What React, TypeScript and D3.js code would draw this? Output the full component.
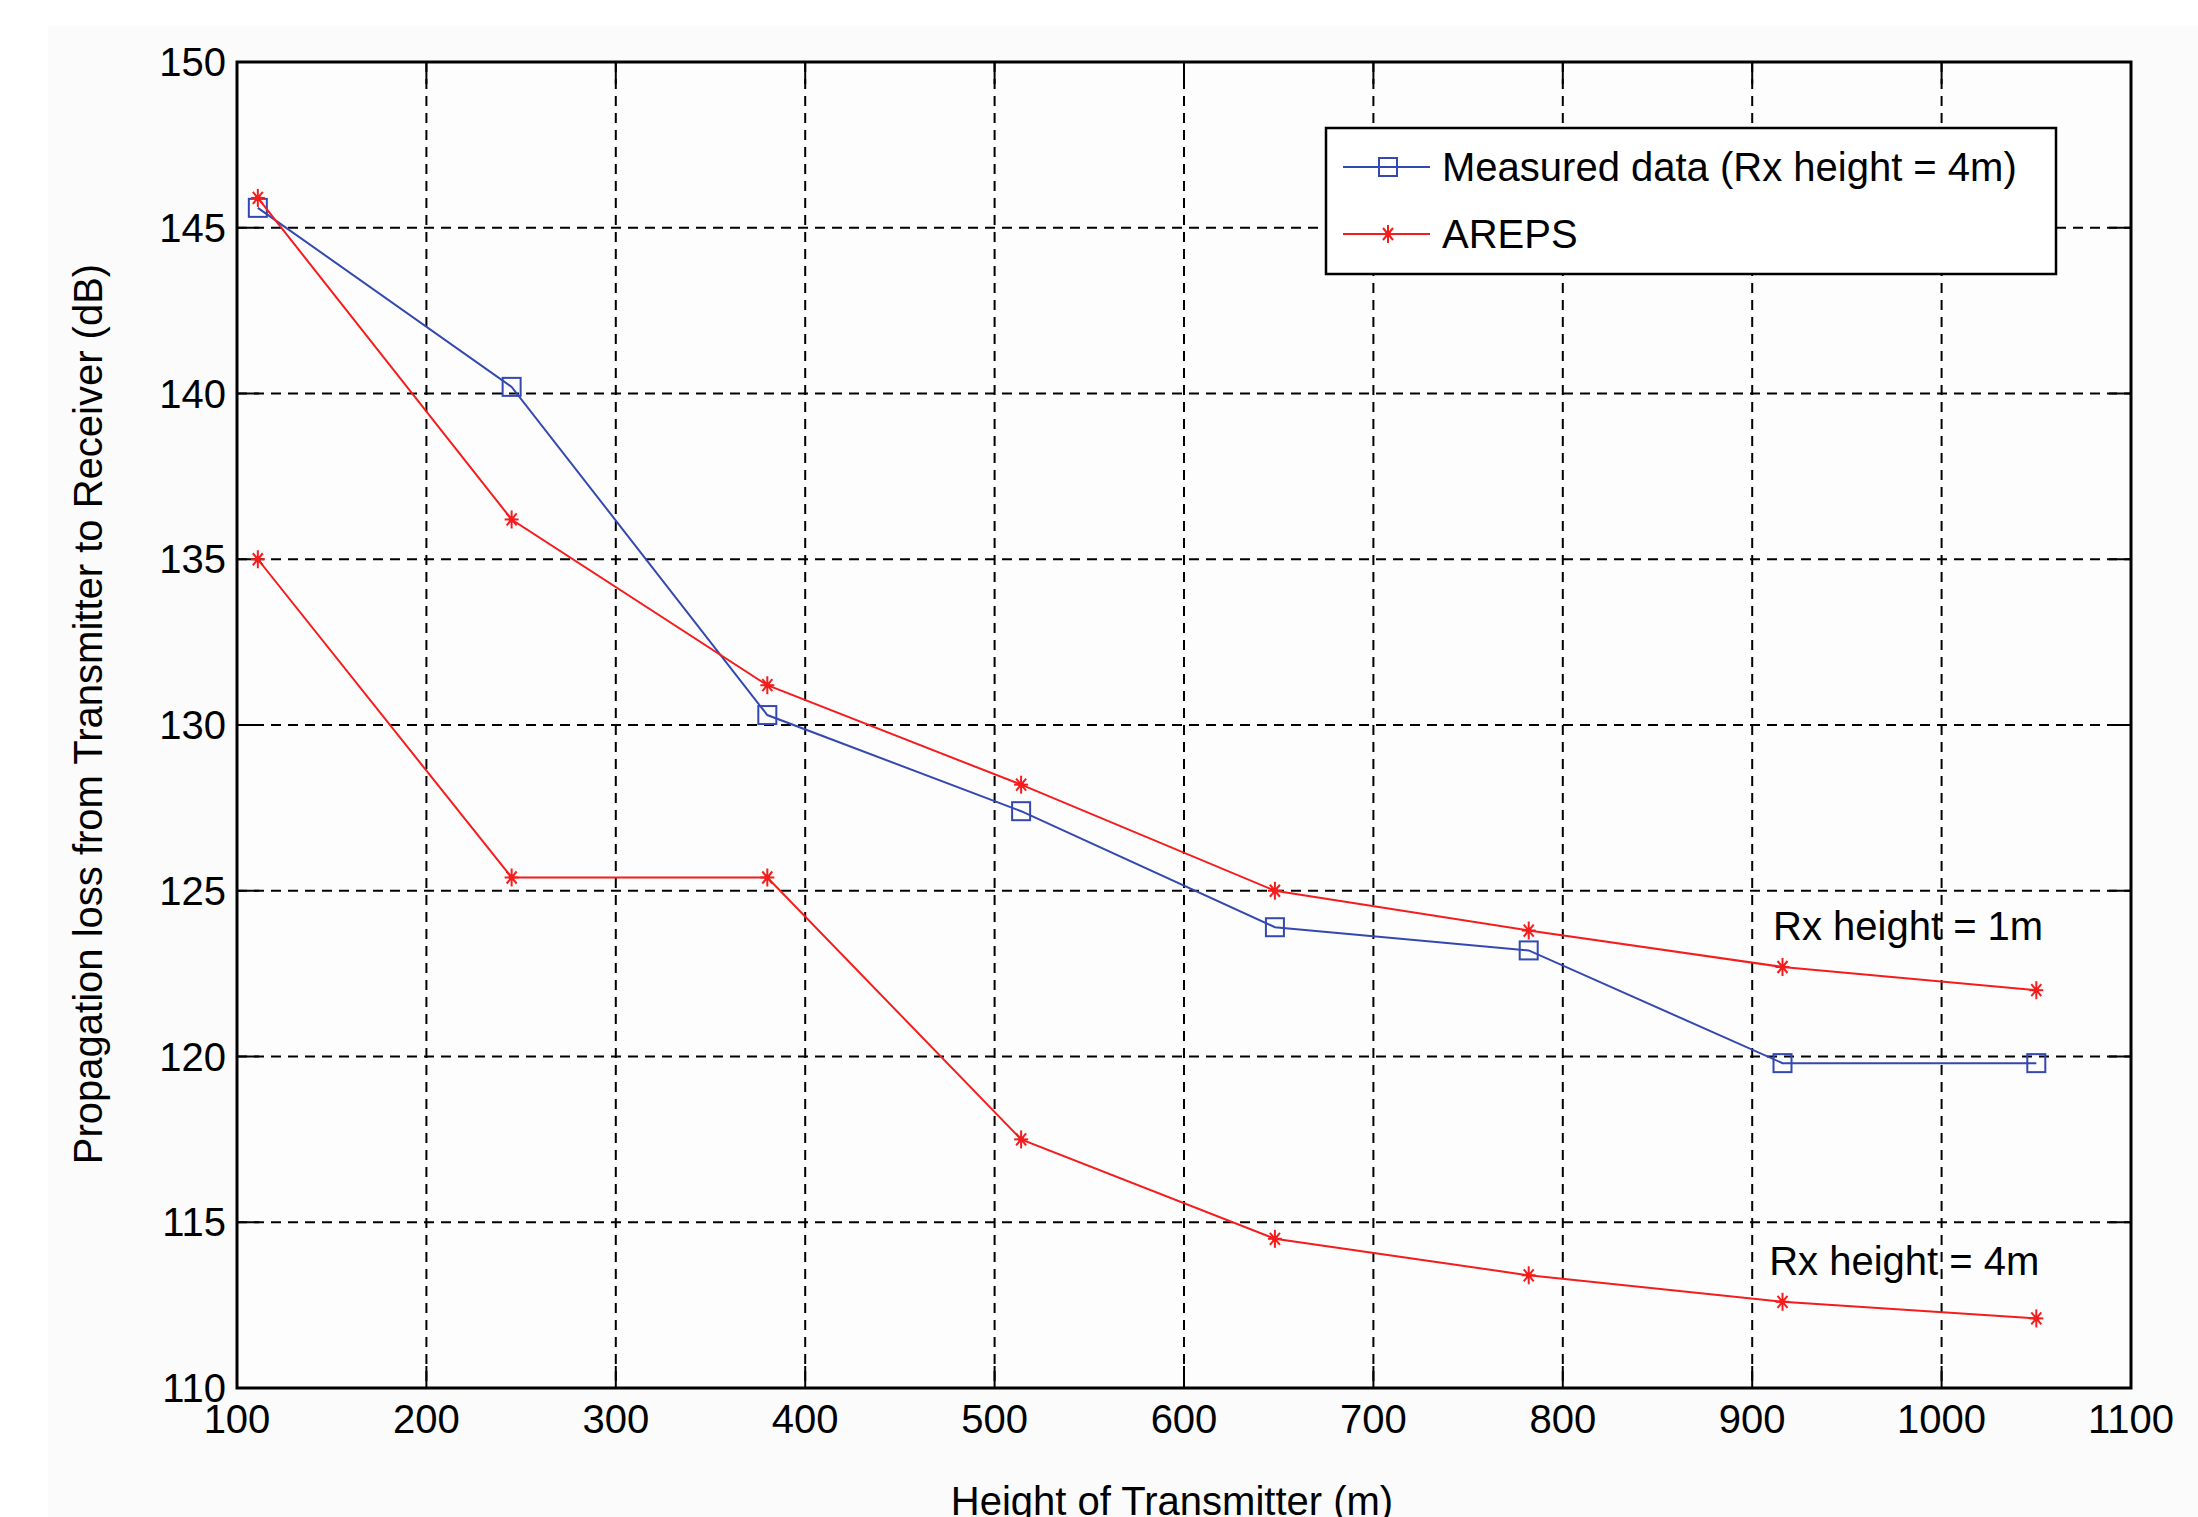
import { useEffect, useRef } from 'react';
import * as d3 from 'd3';

const heights = [111, 245, 380, 514, 648, 782, 916, 1050];
const measured4m = [145.6, 140.2, 130.3, 127.4, 123.9, 123.2, 119.8, 119.8];
const areps1m = [145.9, 136.2, 131.2, 128.2, 125.0, 123.8, 122.7, 122.0];
const areps4m = [135.0, 125.4, 125.4, 117.5, 114.5, 113.4, 112.6, 112.1];
const xTicks = [100, 200, 300, 400, 500, 600, 700, 800, 900, 1000, 1100];
const yTicks = [110, 115, 120, 125, 130, 135, 140, 145, 150];
const annotations = [
  { x: 911, y: 123.5, text: 'Rx height = 1m' },
  { x: 909, y: 113.4, text: 'Rx height = 4m' },
];

const BLUE = '#3348b0';
const RED = '#f41c1c';
const FONT = 'Arial, "Liberation Sans", Helvetica, sans-serif';

const App = () => {
  const svgRef = useRef<SVGSVGElement>(null);

  useEffect(() => {
    if (!svgRef.current) return;
    const svg = d3.select(svgRef.current);
    svg.selectAll('*').remove();

    const W = 2198;
    const H = 1517;
    const left = 237, right = 2131, top = 62, bottom = 1388;

    svg.append('rect').attr('width', W).attr('height', H).attr('fill', '#ffffff');
    svg.append('rect')
      .attr('x', 48).attr('y', 26)
      .attr('width', W - 48).attr('height', H - 26)
      .attr('fill', '#fbfbfb');

    const x = d3.scaleLinear().domain([100, 1100]).range([left, right]);
    const y = d3.scaleLinear().domain([110, 150]).range([bottom, top]);

    svg.append('rect')
      .attr('x', left).attr('y', top)
      .attr('width', right - left).attr('height', bottom - top)
      .attr('fill', '#fdfdfd');

    // grid
    const grid = svg.append('g')
      .attr('stroke', '#000')
      .attr('stroke-width', 2)
      .attr('stroke-dasharray', '10,7');
    xTicks.slice(1, -1).forEach(t => {
      grid.append('line')
        .attr('x1', x(t)).attr('x2', x(t))
        .attr('y1', top).attr('y2', bottom);
    });
    yTicks.slice(1, -1).forEach(t => {
      grid.append('line')
        .attr('x1', left).attr('x2', right)
        .attr('y1', y(t)).attr('y2', y(t));
    });

    // ticks inside on all four sides
    const tickLen = 22;
    const ticks = svg.append('g').attr('stroke', '#000').attr('stroke-width', 2);
    xTicks.forEach(t => {
      ticks.append('line').attr('x1', x(t)).attr('x2', x(t)).attr('y1', bottom).attr('y2', bottom - tickLen);
      ticks.append('line').attr('x1', x(t)).attr('x2', x(t)).attr('y1', top).attr('y2', top + tickLen);
    });
    yTicks.forEach(t => {
      ticks.append('line').attr('x1', left).attr('x2', left + tickLen).attr('y1', y(t)).attr('y2', y(t));
      ticks.append('line').attr('x1', right).attr('x2', right - tickLen).attr('y1', y(t)).attr('y2', y(t));
    });

    // tick labels
    svg.append('g').selectAll('text')
      .data(xTicks)
      .enter()
      .append('text')
      .attr('x', d => x(d))
      .attr('y', 1433)
      .attr('text-anchor', 'middle')
      .style('font-family', FONT)
      .style('font-size', '40px')
      .attr('fill', '#000')
      .text(d => d);

    svg.append('g').selectAll('text')
      .data(yTicks)
      .enter()
      .append('text')
      .attr('x', 226)
      .attr('y', d => y(d) + 14)
      .attr('text-anchor', 'end')
      .style('font-family', FONT)
      .style('font-size', '40px')
      .attr('fill', '#000')
      .text(d => d);

    // series
    const line = d3.line<number>()
      .x((_, i) => x(heights[i]))
      .y(d => y(d));

    const series = [
      { values: measured4m, color: BLUE, marker: 'square' },
      { values: areps1m, color: RED, marker: 'star' },
      { values: areps4m, color: RED, marker: 'star' },
    ];

    const drawStar = (g: any, cx: number, cy: number, color: string) => {
      const s = g.append('g').attr('stroke', color).attr('stroke-width', 2);
      s.append('line').attr('x1', cx).attr('x2', cx).attr('y1', cy - 9).attr('y2', cy + 9);
      s.append('line').attr('x1', cx - 7).attr('x2', cx + 7).attr('y1', cy).attr('y2', cy);
      s.append('line').attr('x1', cx - 5).attr('x2', cx + 5).attr('y1', cy - 6).attr('y2', cy + 6);
      s.append('line').attr('x1', cx - 5).attr('x2', cx + 5).attr('y1', cy + 6).attr('y2', cy - 6);
      g.append('circle').attr('cx', cx).attr('cy', cy).attr('r', 3).attr('fill', color);
    };

    const drawSquare = (g: any, cx: number, cy: number, color: string) => {
      g.append('rect')
        .attr('x', cx - 9).attr('y', cy - 9)
        .attr('width', 18).attr('height', 18)
        .attr('fill', 'none')
        .attr('stroke', color)
        .attr('stroke-width', 2);
    };

    series.forEach(s => {
      const g = svg.append('g');
      g.append('path')
        .datum(s.values)
        .attr('d', line)
        .attr('fill', 'none')
        .attr('stroke', s.color)
        .attr('stroke-width', 2);
      s.values.forEach((v, i) => {
        if (s.marker === 'square') drawSquare(g, x(heights[i]), y(v), s.color);
        else drawStar(g, x(heights[i]), y(v), s.color);
      });
    });

    // axes box
    svg.append('rect')
      .attr('x', left).attr('y', top)
      .attr('width', right - left).attr('height', bottom - top)
      .attr('fill', 'none')
      .attr('stroke', '#000')
      .attr('stroke-width', 3);

    // annotations
    annotations.forEach(a => {
      svg.append('text')
        .attr('x', x(a.x))
        .attr('y', y(a.y))
        .style('font-family', FONT)
        .style('font-size', '40px')
        .attr('fill', '#000')
        .text(a.text);
    });

    // legend
    const legend = svg.append('g');
    legend.append('rect')
      .attr('x', 1326).attr('y', 128)
      .attr('width', 730).attr('height', 146)
      .attr('fill', '#ffffff')
      .attr('stroke', '#000')
      .attr('stroke-width', 2.5);

    const legendItems = [
      { label: 'Measured data (Rx height = 4m)', color: BLUE, marker: 'square', cy: 167 },
      { label: 'AREPS', color: RED, marker: 'star', cy: 234 },
    ];
    legendItems.forEach(item => {
      legend.append('line')
        .attr('x1', 1343).attr('x2', 1430)
        .attr('y1', item.cy).attr('y2', item.cy)
        .attr('stroke', item.color)
        .attr('stroke-width', 2);
      if (item.marker === 'square') drawSquare(legend, 1388, item.cy, item.color);
      else drawStar(legend, 1388, item.cy, item.color);
      legend.append('text')
        .attr('x', 1442)
        .attr('y', item.cy + 14)
        .style('font-family', FONT)
        .style('font-size', '40px')
        .attr('fill', '#000')
        .text(item.label);
    });

    // axis labels
    svg.append('text')
      .attr('x', 1172)
      .attr('y', 1515)
      .attr('text-anchor', 'middle')
      .style('font-family', FONT)
      .style('font-size', '40px')
      .attr('fill', '#000')
      .text('Height of Transmitter (m)');

    svg.append('text')
      .attr('transform', 'translate(102,714) rotate(-90)')
      .attr('text-anchor', 'middle')
      .style('font-family', FONT)
      .style('font-size', '40px')
      .attr('fill', '#000')
      .text('Propagation loss from Transmitter to Receiver (dB)');
  }, []);

  return (
    <svg
      ref={svgRef}
      width={2198}
      height={1517}
      style={{ position: 'absolute', left: 0, top: 0, display: 'block' }}
    />
  );
};

export default App;
